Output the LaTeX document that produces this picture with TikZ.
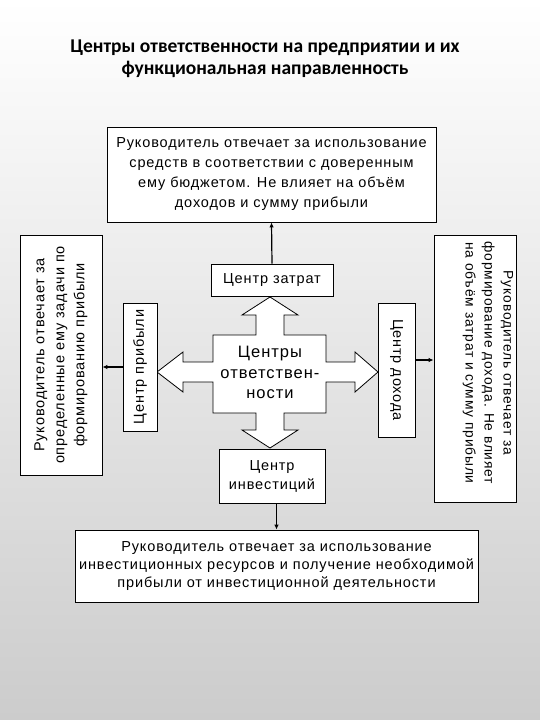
\documentclass[tikz,border=0pt]{standalone}
\usepackage{fontspec}
\setmainfont{Liberation Sans}[LetterSpace=6]
\newfontfamily\titlefont{Carlito}
\usetikzlibrary{arrows.meta}
\definecolor{bgbot}{RGB}{204,204,204}
\tikzset{
  box/.style={draw=black, fill=white, line width=0.8pt, inner sep=0pt, align=center, font=\fontsize{14.5}{20}\selectfont},
  plain/.style={align=center, inner sep=0pt, font=\fontsize{14.5}{20}\selectfont},
  arr/.style={line width=1.2pt, -{Latex[length=5pt,width=4.5pt]}},
  crossshape/.style={draw=black, fill=white, line width=0.8pt, line join=miter}
}
\begin{document}
\begin{tikzpicture}[x=1pt,y=-1pt]
\useasboundingbox (0,0) rectangle (540,720);
\shade[top color=white,bottom color=bgbot] (0,0) rectangle (540,720);

\node[align=center, font=\titlefont\bfseries\fontsize{19.5}{22}\selectfont] (title) at (265,59)
  {Центры ответственности на предприятии и их\\функциональная направленность};

\node[box, minimum width=329, minimum height=95] (topbox) at (271.5,174.5)
  {Руководитель отвечает за использование\\средств в соответствии с доверенным\\ему бюджетом. Не влияет на объём\\доходов и сумму прибыли};

\node[box, rotate=90, minimum width=240, minimum height=82] (leftbox) at (61,355)
  {Руководитель отвечает за\\определенные ему задачи по\\формированию прибыли};

\node[box, rotate=-90, minimum width=267, minimum height=82] (rightbox) at (475,368.5) {};
\node[plain, rotate=-90, font=\fontsize{13.8}{19}\selectfont] (righttext) at (488,363)
  {Руководитель отвечает за\\формирование дохода. Не влияет\\на объём затрат и сумму прибыли};

\draw[crossshape] (270,297) -- (298,315) -- (284,315) -- (284,335) -- (326,335) -- (326,362)
  -- (355,362) -- (355,352) -- (378,372) -- (355,392) -- (355,382) -- (326,382) -- (326,413)
  -- (284,413) -- (284,430) -- (298,430) -- (270,448) -- (242,430) -- (256,430) -- (256,413)
  -- (213,413) -- (213,382) -- (183,382) -- (183,392) -- (157,372) -- (183,352) -- (183,362)
  -- (213,362) -- (213,335) -- (256,335) -- (256,315) -- (242,315) -- cycle;
\node[plain, font=\fontsize{16.5}{20.5}\selectfont] (centre) at (270,372.5) {Центры\\ответствен-\\ности};

\node[box, minimum width=122, minimum height=32] (zatrat) at (272,280) {Центр затрат};
\node[box, rotate=90, minimum width=128, minimum height=34] (pribyli) at (140,367) {Центр прибыли};
\node[box, rotate=-90, minimum width=134, minimum height=37] (dohoda) at (396.5,370) {Центр дохода};
\node[box, minimum width=106, minimum height=54, font=\fontsize{14.5}{19}\selectfont] (invest) at (272,476) {Центр\\инвестиций};

\node[box, minimum width=403, minimum height=72, font=\fontsize{14.5}{18}\selectfont] (botbox) at (276.5,566)
  {Руководитель отвечает за использование\\инвестиционных ресурсов и получение необходимой\\прибыли от инвестиционной деятельности};

\draw[arr] (zatrat.north) -- (topbox.south);
\draw[arr] (pribyli.north) -- (pribyli.north -| leftbox.south);
\draw[arr] ([yshift=10pt]dohoda.north) -- ([yshift=10pt]dohoda.north -| rightbox.south);
\draw[arr] (invest.south -| botbox.north) -- (botbox.north);
\end{tikzpicture}
\end{document}
